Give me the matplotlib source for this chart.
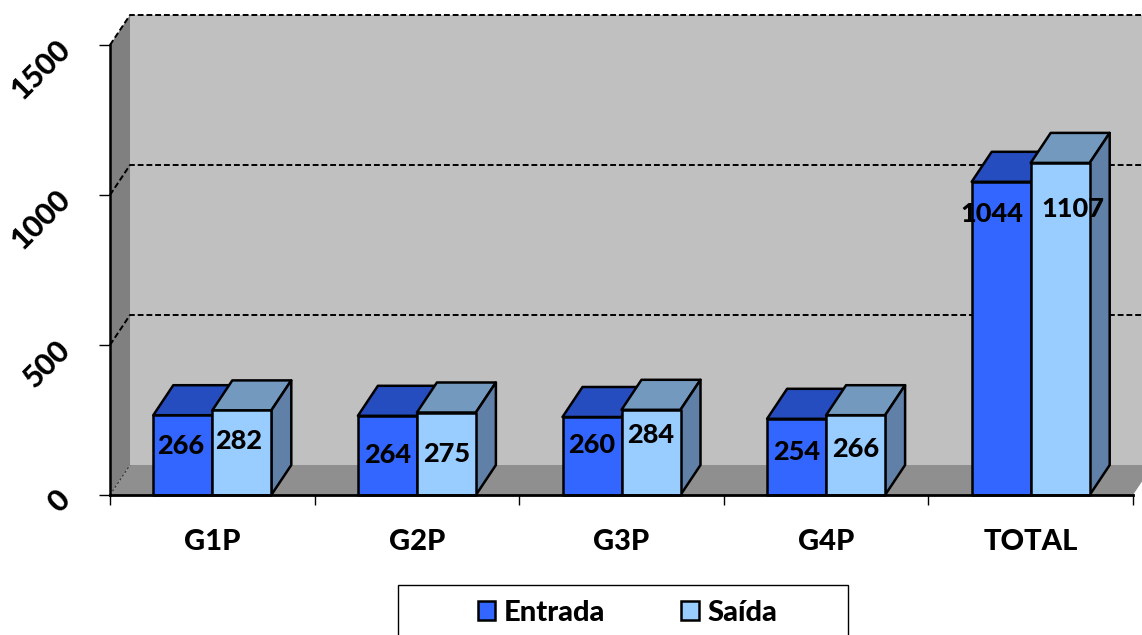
import numpy as np
import matplotlib
matplotlib.use('Agg')
import matplotlib.pyplot as plt
from matplotlib.patches import Polygon, Rectangle

# DATOS
categorias = ['G1P', 'G2P', 'G3P', 'G4P', 'TOTAL']
entrada = [266, 264, 260, 254, 1044]
saida = [282, 275, 284, 266, 1107]
ticks_y = [0, 500, 1000, 1500]

# desplazamiento de cada etiqueta respecto a la barra, en pixeles
offset_entrada = [(-2, -31), (0, -39), (0, -28), (0, -33), (-9, -32)]
offset_saida = [(-3, -31), (0, -42), (0, -25), (0, -34), (13, -46)]

# colores
c_entrada, c_entrada_top, c_entrada_lado = '#3366FF', '#264DBF', '#264DBF'
c_saida, c_saida_top, c_saida_lado = '#99CCFF', '#7399BF', '#6080A8'
c_pared, c_lado, c_piso = '#C0C0C0', '#808080', '#8F8F8F'

ancho_fig, alto_fig = 1142, 635
fuente = 19.5
fuente_eje = 21
fuente_y = 22
peso = 'black'

plt.rcParams['font.family'] = ['Lato', 'DejaVu Sans']

fig = plt.figure(figsize=(ancho_fig/100, alto_fig/100), dpi=100)
ax = fig.add_axes([110/ancho_fig, (alto_fig-495)/alto_fig,
                   1023/ancho_fig, 450/alto_fig])
ax.set_xlim(-0.5, 4.5)
ax.set_ylim(0, 1500)

# profundidad 3D en unidades de datos (20 px, 30 px)
dx = 20/204.6
dy = 100
bw = 59/204.6
izq = -0.5
der = 4.6


def poli(puntos, color, z, lw=1.8):
    ax.add_patch(Polygon(puntos, closed=True, facecolor=color, edgecolor='black' if lw else color,
                         linewidth=lw, zorder=z, clip_on=False, joinstyle='round'))


# paredes
poli([(izq+dx, dy), (der+dx, dy), (der+dx, 1500+dy), (izq+dx, 1500+dy)], c_pared, 1, 0)
poli([(izq, 0), (izq+dx, dy), (izq+dx, 1500+dy), (izq, 1500)], c_lado, 1, 0)
poli([(izq, 0), (4.5, 0), (4.5+dx, dy), (der+dx, dy), (izq+dx, dy)], c_piso, 1, 0)

# grilla
for t in ticks_y[1:]:
    ax.plot([izq, izq+dx, der+dx], [t, t+dy, t+dy], color='black', lw=1.4,
            ls=(0, (3, 1.5)), zorder=2, clip_on=False)
ax.plot([izq, izq+dx], [0, dy], color='#333333', lw=0.8, ls=(0, (2, 2)), zorder=2, clip_on=False)


def barra(x0, valor, frente, top, lado, z):
    x1 = x0 + bw
    poli([(x0, valor), (x0+dx, valor+dy), (x1+dx, valor+dy), (x1, valor)], top, z)
    poli([(x1, 0), (x1+dx, dy), (x1+dx, valor+dy), (x1, valor)], lado, z)
    poli([(x0, 0), (x1, 0), (x1, valor), (x0, valor)], frente, z+0.1)


x = np.arange(len(categorias))
for i in x:
    barra(i-bw, entrada[i], c_entrada, c_entrada_top, c_entrada_lado, 3+i*0.5)
    barra(i, saida[i], c_saida, c_saida_top, c_saida_lado, 3.2+i*0.5)

for i in x:
    ax.annotate(str(entrada[i]), (i-bw/2, entrada[i]),
                xytext=(offset_entrada[i][0]*0.72, offset_entrada[i][1]*0.72),
                textcoords='offset points', ha='center', va='center',
                fontsize=fuente, fontweight=peso, zorder=10, annotation_clip=False)
    ax.annotate(str(saida[i]), (i+bw/2, saida[i]),
                xytext=(offset_saida[i][0]*0.72, offset_saida[i][1]*0.72),
                textcoords='offset points', ha='center', va='center',
                fontsize=fuente, fontweight=peso, zorder=10, annotation_clip=False)

# ejes
for s in ['top', 'right']:
    ax.spines[s].set_visible(False)
ax.spines['left'].set_linewidth(1.8)
ax.spines['bottom'].set_linewidth(2)
ax.spines['left'].set_zorder(9)
ax.spines['bottom'].set_zorder(9)

ax.set_yticks(ticks_y)
ax.set_yticklabels([str(t) for t in ticks_y], rotation=45, ha='right', va='center',
                   rotation_mode='anchor', fontsize=fuente_y, fontweight=peso)
ax.tick_params(axis='y', length=8, width=1, pad=24)

ax.set_xticks(np.arange(-0.5, 5, 1))
ax.set_xticklabels([])
ax.set_xticks(x, minor=True)
ax.set_xticklabels(categorias, minor=True, fontsize=fuente_eje, fontweight=peso)
ax.tick_params(axis='x', which='major', length=7, width=1)
ax.tick_params(axis='x', which='minor', length=0, pad=24.5)

# leyenda
h = [Rectangle((0, 0), 1, 1, facecolor=c_entrada, edgecolor='black', linewidth=1.8),
     Rectangle((0, 0), 1, 1, facecolor=c_saida, edgecolor='black', linewidth=1.8)]
fig.add_artist(Rectangle((397.5/ancho_fig, -0.05), 450/ancho_fig, 0.05+(alto_fig-584.5)/alto_fig,
                         transform=fig.transFigure, facecolor='white', edgecolor='black', linewidth=1))
fig.legend(h, ['Entrada', 'Saída'], ncol=2, frameon=False, loc='center',
           bbox_to_anchor=(627.5/ancho_fig, (alto_fig-613)/alto_fig),
           handlelength=0.6, handleheight=0.6, handletextpad=0.3, columnspacing=2.6,
           prop={'size': fuente_eje, 'weight': peso})

fig.savefig('out.png', dpi=100)
